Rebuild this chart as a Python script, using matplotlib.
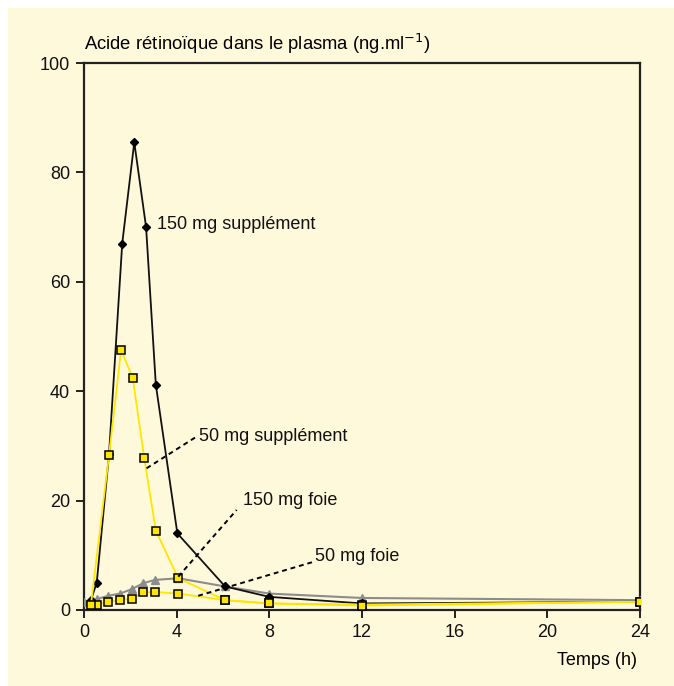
import matplotlib
matplotlib.use("Agg")
import matplotlib.pyplot as plt
from matplotlib.patches import Rectangle

# time (h) and plasma retinoic acid (ng/ml)
t_supp150 = [0.3, 0.55, 1.08, 1.65, 2.17, 2.68, 3.1, 4.03, 6.09, 8.0, 12.0, 24.0]
y_supp150 = [1.8, 5.0, 28.5, 67.0, 85.5, 70.0, 41.2, 14.0, 4.3, 2.4, 1.2, 1.5]

t_supp50 = [0.3, 1.08, 1.6, 2.1, 2.6, 3.1, 4.07, 6.09, 8.0, 12.0, 24.0]
y_supp50 = [1.0, 28.3, 47.5, 42.5, 27.8, 14.5, 5.8, 1.8, 1.2, 0.8, 1.5]

t_foie150 = [0.0, 0.55, 1.05, 1.55, 2.06, 2.56, 3.06, 4.07, 6.09, 8.0, 12.0, 24.0]
y_foie150 = [1.5, 2.0, 2.6, 3.0, 3.8, 4.9, 5.5, 5.8, 4.3, 3.0, 2.2, 1.8]

t_foie50 = [0.55, 1.05, 1.55, 2.06, 2.56, 3.06, 4.07, 6.09, 8.0, 12.0, 24.0]
y_foie50 = [1.0, 1.5, 1.8, 2.1, 3.2, 3.3, 3.0, 1.8, 1.2, 1.0, 1.5]

x_ticks = [0, 4, 8, 12, 16, 20, 24]
y_ticks = [0, 20, 40, 60, 80, 100]

# label text, text anchor, leader line start (None = no leader)
labels = ["150 mg supplément", "50 mg supplément", "150 mg foie", "50 mg foie"]
label_xy = [(3.15, 70.4), (4.95, 31.8), (6.85, 20.0), (9.95, 9.7)]
leader_from = [None, (2.70, 25.9), (4.07, 6.1), (4.93, 2.6)]
leader_to = [None, (4.86, 31.7), (6.59, 18.3), (9.90, 8.8)]

bg = "#fff9dc"
yellow = "#ffe600"
grey = "#8c8c8c"
plt.rcParams["font.family"] = ["Liberation Sans", "DejaVu Sans"]

fig = plt.figure(figsize=(6.74, 6.86), dpi=100)
fig.patch.set_facecolor("white")
fig.patches.append(Rectangle((8 / 674, 0.0), 1.0, 1 - 8 / 686, transform=fig.transFigure,
                             facecolor=bg, edgecolor="none", zorder=-10))

ax = fig.add_axes([84 / 674, 1 - 610 / 686, 556 / 674, 547 / 686])
ax.set_facecolor(bg)

ax.plot(t_foie150, y_foie150, color=grey, lw=1.5, marker="^", ms=6,
        mfc=grey, mec=grey, zorder=3)
ax.plot(t_supp150, y_supp150, color="#111111", lw=1.3, marker="D", ms=4.2,
        mfc="black", mec="black", zorder=4)
ax.plot(t_foie50, y_foie50, color=yellow, lw=1.3, marker="s", ms=5.8,
        mfc=yellow, mec="black", mew=1.1, zorder=5)
ax.plot(t_supp50, y_supp50, color=yellow, lw=1.3, marker="s", ms=5.8,
        mfc=yellow, mec="black", mew=1.1, zorder=6)

for text, xy, a, b in zip(labels, label_xy, leader_from, leader_to):
    ax.text(xy[0], xy[1], text, fontsize=13, va="center", ha="left", color="#111111")
    if a is not None:
        ax.plot([a[0], b[0]], [a[1], b[1]], color="black", lw=1.4,
                ls=(0, (2.5, 2)), zorder=7)

ax.set_xlim(0, 24)
ax.set_ylim(0, 100)
ax.set_xticks(x_ticks)
ax.set_yticks(y_ticks)
ax.tick_params(direction="out", length=6, width=1.3, labelsize=13, pad=4, colors="#111111")
for s in ax.spines.values():
    s.set_linewidth(1.6)
    s.set_color("#222222")

ax.text(0.0, 1.012, "Acide rétinoïque dans le plasma (ng.ml$^{-1}$)", transform=ax.transAxes,
        fontsize=13.3, ha="left", va="bottom")
ax.text(0.995, -0.092, "Temps (h)", transform=ax.transAxes, fontsize=13, ha="right", va="center")

fig.savefig("out.png", dpi=100, facecolor=fig.get_facecolor())
